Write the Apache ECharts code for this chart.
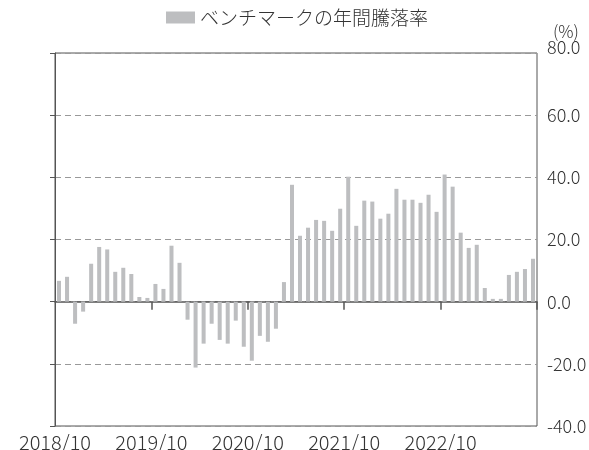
<!DOCTYPE html>
<html>
<head>
<meta charset="utf-8">
<script src="https://cdn.jsdelivr.net/npm/echarts@6/dist/echarts.min.js"></script>
<style>
html,body{margin:0;padding:0;background:#fff;}
#main{width:589px;height:450px;}
</style>
</head>
<body>
<div id="main"></div>
<script>
// 月次カテゴリ 2018/10 - 2023/09
var months = [];
for (var y = 2018, m = 10; months.length < 60; m++) {
    if (m > 12) { m = 1; y++; }
    months.push(y + '/' + (m < 10 ? '0' + m : m));
}
// ベンチマークの年間騰落率(%)
var benchReturn = [
    6.7, 8.0, -7.1, -3.2, 12.2, 17.6, 16.8, 9.6, 10.9, 8.9, 1.5, 1.2,
    5.7, 4.1, 18.0, 12.5, -5.8, -21.2, -13.5, -7.1, -12.3, -13.5, -6.1, -14.5,
    -19.0, -11.0, -12.9, -8.7, 6.3, 37.6, 21.2, 23.8, 26.3, 26.0, 22.8, 29.9,
    40.2, 24.4, 32.5, 32.2, 26.7, 28.3, 36.3, 32.8, 32.8, 31.8, 34.4, 28.9,
    40.9, 37.0, 22.2, 17.3, 18.3, 4.4, 0.9, 0.9, 8.6, 9.6, 10.5, 13.8
];
var yearLabels = ['2018/10', '2019/10', '2020/10', '2021/10', '2022/10'];
var yTicks = [-40, 80, 20]; // min, max, interval

var font = '"Noto Sans CJK JP", "Noto Sans", sans-serif';
var myChart = echarts.init(document.getElementById('main'));
var option = {
    animation: false,
    backgroundColor: '#fff',
    textStyle: {fontFamily: font, fontWeight: 300},
    legend: {
        top: 8,
        left: 166,
        icon: 'rect',
        itemWidth: 29,
        itemHeight: 12,
        itemGap: 5,
        padding: 0,
        textStyle: {fontSize: 19, color: '#333', fontFamily: font, fontWeight: 300},
        data: ['ベンチマークの年間騰落率']
    },
    grid: {
        left: 55,
        right: 52,
        top: 53,
        bottom: 24,
        show: true,
        borderColor: '#555',
        borderWidth: 1,
        containLabel: false,
        outerBoundsMode: 'none'
    },
    graphic: [{
        type: 'text',
        left: 553,
        top: 23,
        style: {text: '(%)', fontSize: 17, fill: '#333', fontFamily: font, fontWeight: 300}
    }],
    xAxis: [
        {
            type: 'category',
            data: months,
            boundaryGap: true,
            axisLine: {onZero: true, lineStyle: {color: '#555', width: 1.5}},
            axisTick: {
                show: true,
                length: 8,
                lineStyle: {color: '#555', width: 1.5},
                interval: function (index) { return index > 0 && index % 12 === 0; }
            },
            axisLabel: {show: false},
            splitLine: {show: false}
        },
        {
            type: 'value',
            position: 'bottom',
            min: 0,
            max: 60,
            interval: 12,
            axisLine: {show: false},
            axisTick: {show: false},
            splitLine: {show: false},
            axisLabel: {
                show: true,
                margin: 6,
                fontSize: 20,
                color: '#333',
                fontFamily: font,
                fontWeight: 300,
                showMaxLabel: false,
                hideOverlap: false,
                formatter: function (v) { return yearLabels[v / 12] || ''; }
            }
        }
    ],
    yAxis: {
        type: 'value',
        position: 'right',
        min: yTicks[0],
        max: yTicks[1],
        interval: yTicks[2],
        axisLine: {show: true, lineStyle: {color: '#555'}},
        axisTick: {show: true, inside: true, length: 5, lineStyle: {color: '#555'}},
        splitLine: {show: true, lineStyle: {color: '#999', type: [6, 4], width: 1}},
        axisLabel: {
            margin: 10,
            fontSize: 18,
            color: '#333',
            fontFamily: font,
            fontWeight: 300,
            formatter: function (v) {
                return v === yTicks[1] ? '{top|' + v.toFixed(1) + '}' : v.toFixed(1);
            },
            rich: {top: {fontSize: 18, color: '#333', fontFamily: font, fontWeight: 300, padding: [0, 0, 12, 0]}}
        }
    },
    series: [
        {
            name: 'ベンチマークの年間騰落率',
            type: 'bar',
            xAxisIndex: 0,
            barWidth: '50%',
            itemStyle: {color: '#bdbec0'},
            data: benchReturn
        }
    ]
};
myChart.setOption(option);
</script>
</body>
</html>
